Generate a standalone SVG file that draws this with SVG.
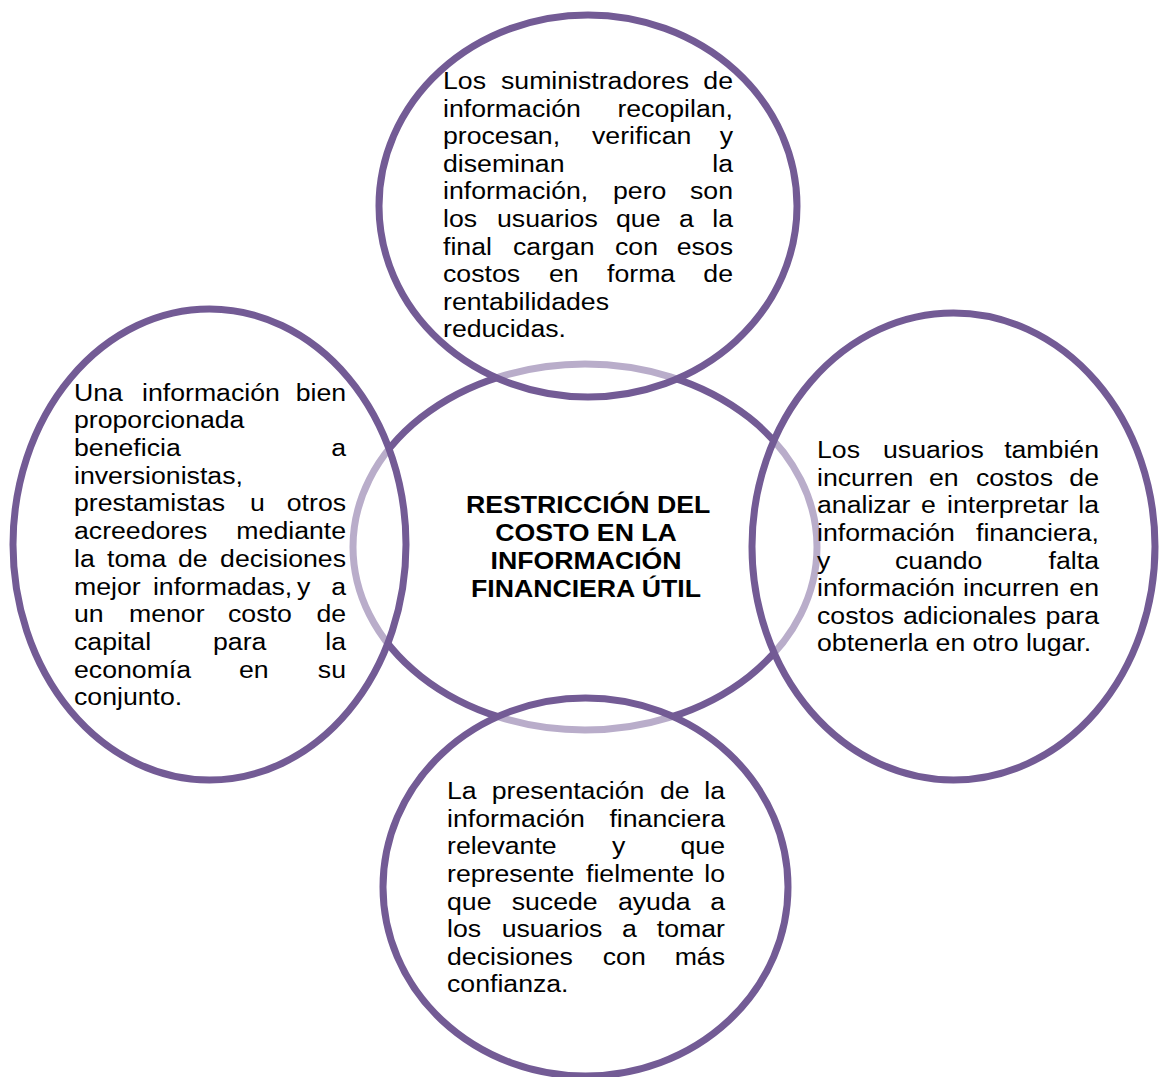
<svg xmlns="http://www.w3.org/2000/svg" width="1159" height="1077" viewBox="0 0 1159 1077">
<style>
.ring{stroke:#735b95;stroke-width:7}
.center{fill:#ffffff}
.outer{fill:#ffffff;fill-opacity:0.5}
.t{font-family:"Liberation Sans",Arial,sans-serif;font-size:24.7px;fill:#000}
.title{font-family:"Liberation Sans",Arial,sans-serif;font-size:24.7px;font-weight:bold;fill:#000;text-anchor:middle}
.e{text-anchor:end}
</style>
<rect width="1159" height="1077" fill="#ffffff"/>
<g id="node-center">
<ellipse class="ring center" cx="585" cy="547" rx="232" ry="183"/>
<g transform="translate(586,0) scale(1.08,1)">
<text class="title"><tspan x="1.9" y="513.3">RESTRICCIÓN DEL</tspan><tspan x="0" y="541">COSTO EN LA</tspan><tspan x="0" y="569">INFORMACIÓN</tspan><tspan x="0" y="596.7">FINANCIERA ÚTIL</tspan></text>
</g>
</g>
<g id="node-top">
<ellipse class="ring outer" cx="588" cy="206" rx="209" ry="191"/>
<g transform="translate(443,0) scale(1.08,1)">
<text class="t"><tspan x="0" y="89">Los</tspan><tspan x="53.7" y="89">suministradores</tspan><tspan class="e" x="268.5" y="89">de</tspan></text>
<text class="t"><tspan x="0" y="116.6">información</tspan><tspan class="e" x="268.5" y="116.6">recopilan,</tspan></text>
<text class="t"><tspan x="0" y="144.2">procesan,</tspan><tspan x="138" y="144.2">verifican</tspan><tspan class="e" x="268.5" y="144.2">y</tspan></text>
<text class="t"><tspan x="0" y="171.8">diseminan</tspan><tspan class="e" x="268.5" y="171.8">la</tspan></text>
<text class="t"><tspan x="0" y="199.4">información,</tspan><tspan x="157.4" y="199.4">pero</tspan><tspan class="e" x="268.5" y="199.4">son</tspan></text>
<text class="t"><tspan x="0" y="227">los</tspan><tspan x="50" y="227">usuarios</tspan><tspan x="160.2" y="227">que</tspan><tspan x="218.5" y="227">a</tspan><tspan class="e" x="268.5" y="227">la</tspan></text>
<text class="t"><tspan x="0" y="254.6">final</tspan><tspan x="64.8" y="254.6">cargan</tspan><tspan x="159.3" y="254.6">con</tspan><tspan class="e" x="268.5" y="254.6">esos</tspan></text>
<text class="t"><tspan x="0" y="282.2">costos</tspan><tspan x="98.1" y="282.2">en</tspan><tspan x="151.9" y="282.2">forma</tspan><tspan class="e" x="268.5" y="282.2">de</tspan></text>
<text class="t" x="0" y="309.8">rentabilidades</text>
<text class="t" x="0" y="337.4">reducidas.</text>
</g>
</g>
<g id="node-left">
<ellipse class="ring outer" cx="209.5" cy="544.5" rx="196.5" ry="235.5"/>
<g transform="translate(74,0) scale(1.08,1)">
<text class="t"><tspan x="0" y="400.7">Una</tspan><tspan x="63" y="400.7">información</tspan><tspan class="e" x="251.9" y="400.7">bien</tspan></text>
<text class="t" x="0" y="428.4">proporcionada</text>
<text class="t"><tspan x="0" y="456.1">beneficia</tspan><tspan class="e" x="251.9" y="456.1">a</tspan></text>
<text class="t" x="0" y="483.8">inversionistas,</text>
<text class="t"><tspan x="0" y="511.5">prestamistas</tspan><tspan x="163" y="511.5">u</tspan><tspan class="e" x="251.9" y="511.5">otros</tspan></text>
<text class="t"><tspan x="0" y="539.2">acreedores</tspan><tspan class="e" x="251.9" y="539.2">mediante</tspan></text>
<text class="t"><tspan x="0" y="566.9">la</tspan><tspan x="30.6" y="566.9">toma</tspan><tspan x="96.3" y="566.9">de</tspan><tspan class="e" x="251.9" y="566.9">decisiones</tspan></text>
<text class="t"><tspan x="0" y="594.6">mejor</tspan><tspan x="73.1" y="594.6">informadas,</tspan><tspan x="206.5" y="594.6">y</tspan><tspan class="e" x="251.9" y="594.6">a</tspan></text>
<text class="t"><tspan x="0" y="622.3">un</tspan><tspan x="50.9" y="622.3">menor</tspan><tspan x="142.6" y="622.3">costo</tspan><tspan class="e" x="251.9" y="622.3">de</tspan></text>
<text class="t"><tspan x="0" y="650">capital</tspan><tspan x="128.7" y="650">para</tspan><tspan class="e" x="251.9" y="650">la</tspan></text>
<text class="t"><tspan x="0" y="677.7">economía</tspan><tspan x="152.8" y="677.7">en</tspan><tspan class="e" x="251.9" y="677.7">su</tspan></text>
<text class="t" x="0" y="705.4">conjunto.</text>
</g>
</g>
<g id="node-right">
<ellipse class="ring outer" cx="953.5" cy="546.5" rx="201.5" ry="233.5"/>
<g transform="translate(817,0) scale(1.08,1)">
<text class="t"><tspan x="0" y="458.3">Los</tspan><tspan x="61.1" y="458.3">usuarios</tspan><tspan class="e" x="261.1" y="458.3">también</tspan></text>
<text class="t"><tspan x="0" y="485.9">incurren</tspan><tspan x="103.7" y="485.9">en</tspan><tspan x="147.2" y="485.9">costos</tspan><tspan class="e" x="261.1" y="485.9">de</tspan></text>
<text class="t"><tspan x="0" y="513.5">analizar</tspan><tspan x="96.3" y="513.5">e</tspan><tspan x="120.4" y="513.5">interpretar</tspan><tspan class="e" x="261.1" y="513.5">la</tspan></text>
<text class="t"><tspan x="0" y="541.1">información</tspan><tspan class="e" x="261.1" y="541.1">financiera,</tspan></text>
<text class="t"><tspan x="0" y="568.7">y</tspan><tspan x="72.2" y="568.7">cuando</tspan><tspan class="e" x="261.1" y="568.7">falta</tspan></text>
<text class="t"><tspan x="0" y="596.3">información</tspan><tspan x="135.2" y="596.3">incurren</tspan><tspan class="e" x="261.1" y="596.3">en</tspan></text>
<text class="t"><tspan x="0" y="623.9">costos</tspan><tspan x="79.6" y="623.9">adicionales</tspan><tspan class="e" x="261.1" y="623.9">para</tspan></text>
<text class="t" x="0" y="651.5">obtenerla en otro lugar.</text>
</g>
</g>
<g id="node-bottom">
<ellipse class="ring outer" cx="585.5" cy="887" rx="202.5" ry="189"/>
<g transform="translate(447,0) scale(1.08,1)">
<text class="t"><tspan x="0" y="799.3">La</tspan><tspan x="41.4" y="799.3">presentación</tspan><tspan x="197.2" y="799.3">de</tspan><tspan class="e" x="257.4" y="799.3">la</tspan></text>
<text class="t"><tspan x="0" y="826.9">información</tspan><tspan class="e" x="257.4" y="826.9">financiera</tspan></text>
<text class="t"><tspan x="0" y="854.5">relevante</tspan><tspan x="152.8" y="854.5">y</tspan><tspan class="e" x="257.4" y="854.5">que</tspan></text>
<text class="t"><tspan x="0" y="882.1">represente</tspan><tspan x="128.7" y="882.1">fielmente</tspan><tspan class="e" x="257.4" y="882.1">lo</tspan></text>
<text class="t"><tspan x="0" y="909.7">que</tspan><tspan x="59.9" y="909.7">sucede</tspan><tspan x="158.3" y="909.7">ayuda</tspan><tspan class="e" x="257.4" y="909.7">a</tspan></text>
<text class="t"><tspan x="0" y="937.3">los</tspan><tspan x="50.6" y="937.3">usuarios</tspan><tspan x="162" y="937.3">a</tspan><tspan class="e" x="257.4" y="937.3">tomar</tspan></text>
<text class="t"><tspan x="0" y="964.9">decisiones</tspan><tspan x="144.2" y="964.9">con</tspan><tspan class="e" x="257.4" y="964.9">más</tspan></text>
<text class="t" x="0" y="992.5">confianza.</text>
</g>
</g>
</svg>
